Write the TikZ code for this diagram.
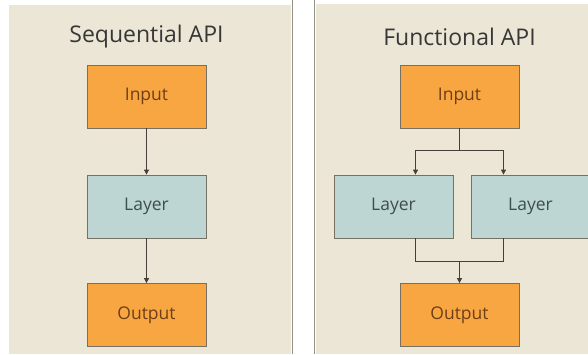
\documentclass[tikz,border=0pt]{standalone}
\usepackage{fontspec}
\setmainfont{Open Sans}
\usetikzlibrary{arrows.meta}

\definecolor{paper}{RGB}{236,230,214}
\definecolor{frame}{RGB}{145,145,138}
\definecolor{orangebox}{RGB}{248,166,66}
\definecolor{tealbox}{RGB}{189,214,211}
\definecolor{boxline}{RGB}{120,112,100}
\definecolor{intext}{RGB}{110,62,22}
\definecolor{laytext}{RGB}{62,78,80}
\definecolor{titletext}{RGB}{55,55,55}
\definecolor{wire}{RGB}{70,62,55}

\tikzset{
  x=1pt, y=-1pt,
  basebox/.style={draw=boxline, line width=0.8pt, minimum width=119pt,
    minimum height=63pt, inner sep=0pt, font=\fontsize{17.5}{21}\selectfont},
  iobox/.style={basebox, fill=orangebox, text=intext},
  layerbox/.style={basebox, fill=tealbox, text=laytext},
  heading/.style={text=titletext, font=\fontsize{23}{27}\selectfont, inner sep=0pt},
  wireline/.style={draw=wire, line width=0.8pt},
  flow/.style={wireline, -{Triangle[length=5pt,width=5pt]}},
}

\begin{document}
\begin{tikzpicture}
  % canvas
  \useasboundingbox (0,0) rectangle (588,354);
  \fill[white] (0,0) rectangle (588,354);

  % two panels with their divider
  \fill[paper] (9,5) rectangle (291,354);
  \fill[paper] (316,4) rectangle (588,354);
  \draw[frame, line width=1.6pt] (292.5,0) -- (292.5,354);
  \draw[frame, line width=1.2pt] (314.5,0) -- (314.5,354);

  % sequential model
  \node[heading] (seqtitle) at (146.5,37) {Sequential API};
  \node[iobox] (sin) at (146.5,96.5) {Input};
  \node[layerbox] (slayer) at (146.5,206.5) {Layer};
  \node[iobox] (sout) at (146.5,315) {Output};
  \draw[flow] (sin) -- (slayer);
  \draw[flow] (slayer) -- (sout);

  % functional model
  \node[heading] (funtitle) at (459.5,37) {Functional API};
  \node[iobox] (fin) at (459.5,96.5) {Input};
  \node[layerbox] (flayA) at (393.5,206.5) {Layer};
  \node[layerbox] (flayB) at (530.5,206.5) {Layer};
  \node[iobox] (fout) at (459.5,315) {Output};

  \coordinate (split) at (459.5,150.5);
  \coordinate (splitA) at (415.5,150.5);
  \coordinate (splitB) at (503.5,150.5);
  \coordinate (joinA) at (415.5,261.5);
  \coordinate (joinB) at (503.5,261.5);
  \coordinate (join) at (459.5,261.5);

  \draw[wireline] (fin.south) -- (split);
  \draw[flow] (split) -- (splitA) -- (splitA |- flayA.north);
  \draw[flow] (split) -- (splitB) -- (splitB |- flayB.north);
  \draw[wireline] (joinA |- flayA.south) -- (joinA) -- (joinB) -- (joinB |- flayB.south);
  \draw[flow] (join) -- (fout.north);
\end{tikzpicture}
\end{document}
